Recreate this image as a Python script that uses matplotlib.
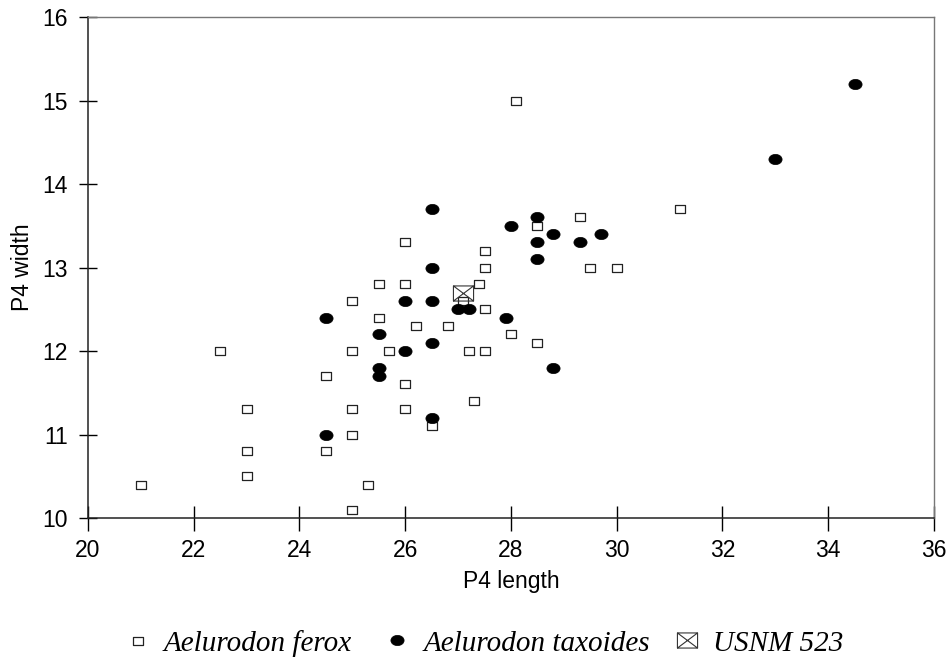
import matplotlib
matplotlib.use("Agg")
import matplotlib.pyplot as plt
from matplotlib.path import Path

# P4 dimensions, Aelurodon ferox
ferox_x = [21.0, 22.5, 23.0, 23.0, 23.0, 24.5, 24.5, 25.0, 25.0, 25.0, 25.0, 25.0, 25.3,
           25.5, 25.5, 25.7, 26.0, 26.0, 26.0, 26.0, 26.2, 26.5, 26.8, 27.1, 27.2, 27.3,
           27.4, 27.5, 27.5, 27.5, 27.5, 28.0, 28.1, 28.5, 28.5, 29.3, 29.5, 30.0, 31.2]
ferox_y = [10.4, 12.0, 11.3, 10.8, 10.5, 11.7, 10.8, 12.6, 12.0, 11.3, 11.0, 10.1, 10.4,
           12.8, 12.4, 12.0, 13.3, 12.8, 11.6, 11.3, 12.3, 11.1, 12.3, 12.6, 12.0, 11.4,
           12.8, 13.2, 13.0, 12.5, 12.0, 12.2, 15.0, 13.5, 12.1, 13.6, 13.0, 13.0, 13.7]

# P4 dimensions, Aelurodon taxoides
tax_x = [24.5, 24.5, 25.5, 25.5, 25.5, 26.0, 26.0, 26.5, 26.5, 26.5, 26.5, 26.5, 27.0,
         27.2, 27.9, 28.0, 28.5, 28.5, 28.5, 28.8, 28.8, 29.3, 29.7, 33.0, 34.5]
tax_y = [12.4, 11.0, 12.2, 11.8, 11.7, 12.6, 12.0, 13.7, 13.0, 12.6, 12.1, 11.2, 12.5,
         12.5, 12.4, 13.5, 13.6, 13.3, 13.1, 13.4, 11.8, 13.3, 13.4, 14.3, 15.2]

# specimen USNM 523
usnm_x = [27.1]
usnm_y = [12.7]

xticks = [20, 22, 24, 26, 28, 30, 32, 34, 36]
yticks = [10, 11, 12, 13, 14, 15, 16]

# box with a cross in it
boxx = Path([(-1, -0.75), (1, -0.75), (1, 0.75), (-1, 0.75), (-1, -0.75),
             (1, 0.75), (-1, 0.75), (1, -0.75)],
            [Path.MOVETO, Path.LINETO, Path.LINETO, Path.LINETO, Path.LINETO,
             Path.LINETO, Path.MOVETO, Path.LINETO])
# flat square and flat dot
sq = Path([(-1, -0.75), (1, -0.75), (1, 0.75), (-1, 0.75), (-1, -0.75)],
          [Path.MOVETO, Path.LINETO, Path.LINETO, Path.LINETO, Path.CLOSEPOLY])
circ = Path.unit_circle()
circ = Path(circ.vertices * [1.0, 0.78], circ.codes)

fig = plt.figure(figsize=(9.48, 6.62), dpi=100)
ax = fig.add_axes([0.0928, 0.2175, 0.8924, 0.7568])

h1, = ax.plot(ferox_x, ferox_y, ls="none", marker=sq, ms=7.5, mfc="white", mec="#222222",
              mew=0.9)
h2, = ax.plot(tax_x, tax_y, ls="none", marker=circ, ms=9.5, mfc="black", mec="black",
              mew=0.5)
h3, = ax.plot(usnm_x, usnm_y, ls="none", marker=boxx, ms=14.5, mfc="none", mec="#333333",
              mew=0.8)

ax.set_xlim(20, 36)
ax.set_ylim(10, 16)
ax.set_xticks(xticks)
ax.set_yticks(yticks)
ax.tick_params(axis="x", direction="inout", length=18, width=1, pad=6,
               labelsize=16.5)
ax.tick_params(axis="y", direction="inout", length=13, width=1, pad=8,
               labelsize=16.5)
for lab in ax.get_xticklabels() + ax.get_yticklabels():
    lab.set_family("Liberation Sans")
for s in ["left", "bottom"]:
    ax.spines[s].set_linewidth(1.1)
    ax.spines[s].set_color("#222222")
for s in ["top", "right"]:
    ax.spines[s].set_linewidth(1.0)
    ax.spines[s].set_color("#777777")

ax.set_xlabel("P4 length", fontsize=16.5, family="Liberation Sans", labelpad=6)
ax.set_ylabel("P4 width", fontsize=16.5, family="Liberation Sans", labelpad=6)

# one legend per entry so the gaps can follow the original
lprop = {"family": "Liberation Serif", "style": "italic", "size": 21}
for h, name, x0 in [(h1, "Aelurodon ferox", 0.13),
                    (h2, "Aelurodon taxoides", 0.4035),
                    (h3, "USNM 523", 0.7094)]:
    fig.legend([h], [name], loc="center left", bbox_to_anchor=(x0, 0.028),
               frameon=False, prop=lprop, borderpad=0, borderaxespad=0,
               handletextpad=0.4, handlelength=1.0)

fig.savefig("out.png", dpi=100)
